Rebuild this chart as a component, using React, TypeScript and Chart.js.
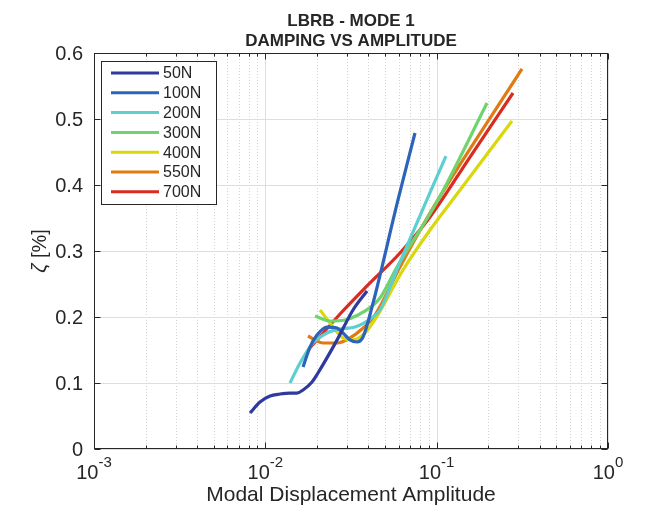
import React, { useEffect, useRef } from 'react';
import { Chart, registerables } from 'chart.js';

Chart.register(...registerables);

const titleLines = ['LBRB - MODE 1', 'DAMPING VS AMPLITUDE'];
const xAxisLabel = 'Modal Displacement Amplitude';
const yAxisSymbol = 'ζ';
const yAxisUnit = ' [%]';
const xTickExponents = [-3, -2, -1, 0];
const yTicks = [0, 0.1, 0.2, 0.3, 0.4, 0.5, 0.6];
const yTickLabels = ['0', '0.1', '0.2', '0.3', '0.4', '0.5', '0.6'];

const seriesLabels = ['50N', '100N', '200N', '300N', '400N', '550N', '700N'];
const seriesColors = ['#2f3a9e', '#2c64b9', '#5dcfd0', '#6fd46d', '#d8d80c', '#e07a12', '#d92b20'];

const x50 = [0.00814, 0.00931, 0.01065, 0.01218, 0.01393, 0.0153, 0.0166, 0.01873, 0.02029, 0.0262, 0.03248, 0.03922];
const y50 = [0.0545, 0.0712, 0.0803, 0.0833, 0.0848, 0.0848, 0.0894, 0.1015, 0.1152, 0.165, 0.2106, 0.2394];

const x100 = [0.0166, 0.01823, 0.02002, 0.02291, 0.0262, 0.0284, 0.03119, 0.03428, 0.03717, 0.04194, 0.05946, 0.07474];
const y100 = [0.1242, 0.1545, 0.1727, 0.1848, 0.1833, 0.1758, 0.1652, 0.1621, 0.1697, 0.2152, 0.3773, 0.4788];

const x200 = [0.01393, 0.01594, 0.01898, 0.02291, 0.02728, 0.03337, 0.0425, 0.04669, 0.06109, 0.1133];
const y200 = [0.1, 0.1303, 0.1606, 0.1758, 0.1818, 0.1848, 0.2, 0.2106, 0.2833, 0.4439];

const x300 = [0.0195, 0.02385, 0.02917, 0.03475, 0.04194, 0.04669, 0.05868, 0.1018, 0.1967];
const y300 = [0.2015, 0.1939, 0.1955, 0.203, 0.2167, 0.2288, 0.2758, 0.3773, 0.5242];

const x400 = [0.02085, 0.02385, 0.0284, 0.03248, 0.03818, 0.04425, 0.06361, 0.09143, 0.1369, 0.2752];
const y400 = [0.2106, 0.1909, 0.1682, 0.1652, 0.1758, 0.1985, 0.2712, 0.3318, 0.3924, 0.497];

const x550 = [0.01774, 0.0195, 0.02171, 0.0262, 0.03119, 0.03667, 0.04366, 0.06109, 0.09143, 0.3147];
const y550 = [0.1712, 0.1652, 0.1606, 0.1606, 0.1682, 0.1818, 0.203, 0.2758, 0.3576, 0.5758];

const x700 = [0.01774, 0.0223, 0.02728, 0.03922, 0.06109, 0.09143, 0.1565, 0.279];
const y700 = [0.15, 0.1788, 0.2045, 0.247, 0.297, 0.3515, 0.4424, 0.5394];

const seriesX = [x50, x100, x200, x300, x400, x550, x700];
const seriesY = [y50, y100, y200, y300, y400, y550, y700];

const FONT = '"Liberation Sans", Arial, Helvetica, sans-serif';
const INK = '#262626';

const decorPlugin = {
  id: 'matlabDecor',
  beforeDatasetsDraw(chart: any) {
    const { ctx, chartArea: a, scales } = chart;
    const xs = scales.x;
    const ys = scales.y;
    ctx.save();
    ctx.strokeStyle = '#d4d4d4';
    ctx.lineWidth = 1;
    ctx.setLineDash([1, 2]);
    for (let e = -3; e < 0; e++) {
      for (let m = 2; m <= 9; m++) {
        const px = Math.round(xs.getPixelForValue(m * Math.pow(10, e))) + 0.5;
        ctx.beginPath();
        ctx.moveTo(px, a.top);
        ctx.lineTo(px, a.bottom);
        ctx.stroke();
      }
    }
    ctx.setLineDash([]);
    ctx.strokeStyle = '#dedede';
    for (const e of xTickExponents) {
      const px = Math.round(xs.getPixelForValue(Math.pow(10, e))) + 0.5;
      ctx.beginPath();
      ctx.moveTo(px, a.top);
      ctx.lineTo(px, a.bottom);
      ctx.stroke();
    }
    for (const v of yTicks) {
      const py = Math.round(ys.getPixelForValue(v)) + 0.5;
      ctx.beginPath();
      ctx.moveTo(a.left, py);
      ctx.lineTo(a.right, py);
      ctx.stroke();
    }
    ctx.restore();
  },
  afterDatasetsDraw(chart: any) {
    const { ctx, chartArea: a, scales } = chart;
    const xs = scales.x;
    const ys = scales.y;
    ctx.save();
    ctx.strokeStyle = INK;
    ctx.lineWidth = 1;
    const L = Math.round(a.left) + 0.5;
    const R = Math.round(a.right) - 0.5;
    const T = Math.round(a.top) + 0.5;
    const B = Math.round(a.bottom) - 0.5;
    ctx.strokeRect(L, T, R - L, B - T);
    for (let e = -3; e <= 0; e++) {
      const ms = e < 0 ? [1, 2, 3, 4, 5, 6, 7, 8, 9] : [1];
      for (const m of ms) {
        const px = Math.round(xs.getPixelForValue(m * Math.pow(10, e))) + 0.5;
        const len = m === 1 ? 6 : 3;
        ctx.beginPath();
        ctx.moveTo(px, B);
        ctx.lineTo(px, B - len);
        ctx.moveTo(px, T);
        ctx.lineTo(px, T + len);
        ctx.stroke();
      }
    }
    for (const v of yTicks) {
      const py = Math.round(ys.getPixelForValue(v)) + 0.5;
      ctx.beginPath();
      ctx.moveTo(L, py);
      ctx.lineTo(L + 6, py);
      ctx.moveTo(R, py);
      ctx.lineTo(R - 6, py);
      ctx.stroke();
    }
    ctx.fillStyle = INK;
    ctx.font = `20px ${FONT}`;
    ctx.textAlign = 'right';
    ctx.textBaseline = 'middle';
    yTicks.forEach((v, i) => {
      ctx.fillText(yTickLabels[i], a.left - 11, ys.getPixelForValue(v) + 1);
    });
    ctx.textBaseline = 'alphabetic';
    ctx.textAlign = 'left';
    for (const e of xTickExponents) {
      const px = xs.getPixelForValue(Math.pow(10, e));
      ctx.font = `20px ${FONT}`;
      const wb = ctx.measureText('10').width;
      ctx.font = `15px ${FONT}`;
      const sup = e === 0 ? '0' : '-' + Math.abs(e);
      const ws = ctx.measureText(sup).width;
      const x0 = px - (wb + ws) / 2;
      ctx.font = `20px ${FONT}`;
      ctx.fillText('10', x0, a.bottom + 30);
      ctx.font = `15px ${FONT}`;
      ctx.fillText(sup, x0 + wb, a.bottom + 18);
    }
    ctx.textAlign = 'center';
    ctx.textBaseline = 'middle';
    ctx.font = `21px ${FONT}`;
    ctx.fillText(xAxisLabel, (a.left + a.right) / 2, a.bottom + 46);
    // y label: italic zeta + unit
    ctx.save();
    ctx.translate(40, (a.top + a.bottom) / 2);
    ctx.rotate(-Math.PI / 2);
    ctx.font = `italic 20px ${FONT}`;
    const wz = ctx.measureText(yAxisSymbol).width;
    ctx.font = `20px ${FONT}`;
    const wu = ctx.measureText(yAxisUnit).width;
    ctx.textAlign = 'left';
    const sx = -(wz + wu) / 2;
    ctx.font = `italic 20px ${FONT}`;
    ctx.fillText(yAxisSymbol, sx, 0);
    ctx.font = `20px ${FONT}`;
    ctx.fillText(yAxisUnit, sx + wz, 0);
    ctx.restore();
    ctx.textAlign = 'center';
    ctx.font = `bold 17px ${FONT}`;
    ctx.fillText(titleLines[0], (a.left + a.right) / 2, 21);
    ctx.fillText(titleLines[1], (a.left + a.right) / 2, 41);
    const bx = 101.5, by = 61.5, bw = 115, bh = 143;
    ctx.fillStyle = '#ffffff';
    ctx.fillRect(bx, by, bw, bh);
    ctx.strokeStyle = INK;
    ctx.lineWidth = 1;
    ctx.strokeRect(bx, by, bw, bh);
    ctx.font = `16px ${FONT}`;
    ctx.textAlign = 'left';
    ctx.textBaseline = 'middle';
    chart.data.datasets.forEach((ds: any, i: number) => {
      const yy = 73 + i * 19.8;
      ctx.strokeStyle = ds.borderColor;
      ctx.lineWidth = 3;
      ctx.beginPath();
      ctx.moveTo(111, yy);
      ctx.lineTo(159, yy);
      ctx.stroke();
      ctx.fillStyle = INK;
      ctx.fillText(ds.label, 163, yy + 1);
    });
    ctx.restore();
  },
};

export default function App() {
  const ref = useRef<HTMLCanvasElement | null>(null);
  useEffect(() => {
    if (!ref.current) return;
    const datasets = seriesLabels.map((label, i) => ({
      label,
      data: seriesX[i].map((x, j) => ({ x, y: seriesY[i][j] })),
      borderColor: seriesColors[i],
      backgroundColor: seriesColors[i],
      borderWidth: 3.2,
      pointRadius: 0,
      fill: false,
      cubicInterpolationMode: 'monotone' as const,
    }));
    const chart = new Chart(ref.current, {
      type: 'line',
      data: { datasets },
      options: {
        responsive: false,
        animation: false,
        devicePixelRatio: 1,
        layout: { padding: { left: 94, top: 53, right: 38, bottom: 72 } },
        plugins: { legend: { display: false }, title: { display: false }, tooltip: { enabled: false } },
        scales: {
          x: { type: 'logarithmic', min: 0.001, max: 1, display: false },
          y: { type: 'linear', min: 0, max: 0.6, display: false },
        },
      },
      plugins: [decorPlugin],
    });
    return () => chart.destroy();
  }, []);
  return (
    <div style={{ position: 'fixed', left: 0, top: 0, width: 646, height: 521, background: '#ffffff' }}>
      <canvas ref={ref} width={646} height={521} style={{ width: 646, height: 521, display: 'block' }} />
    </div>
  );
}
